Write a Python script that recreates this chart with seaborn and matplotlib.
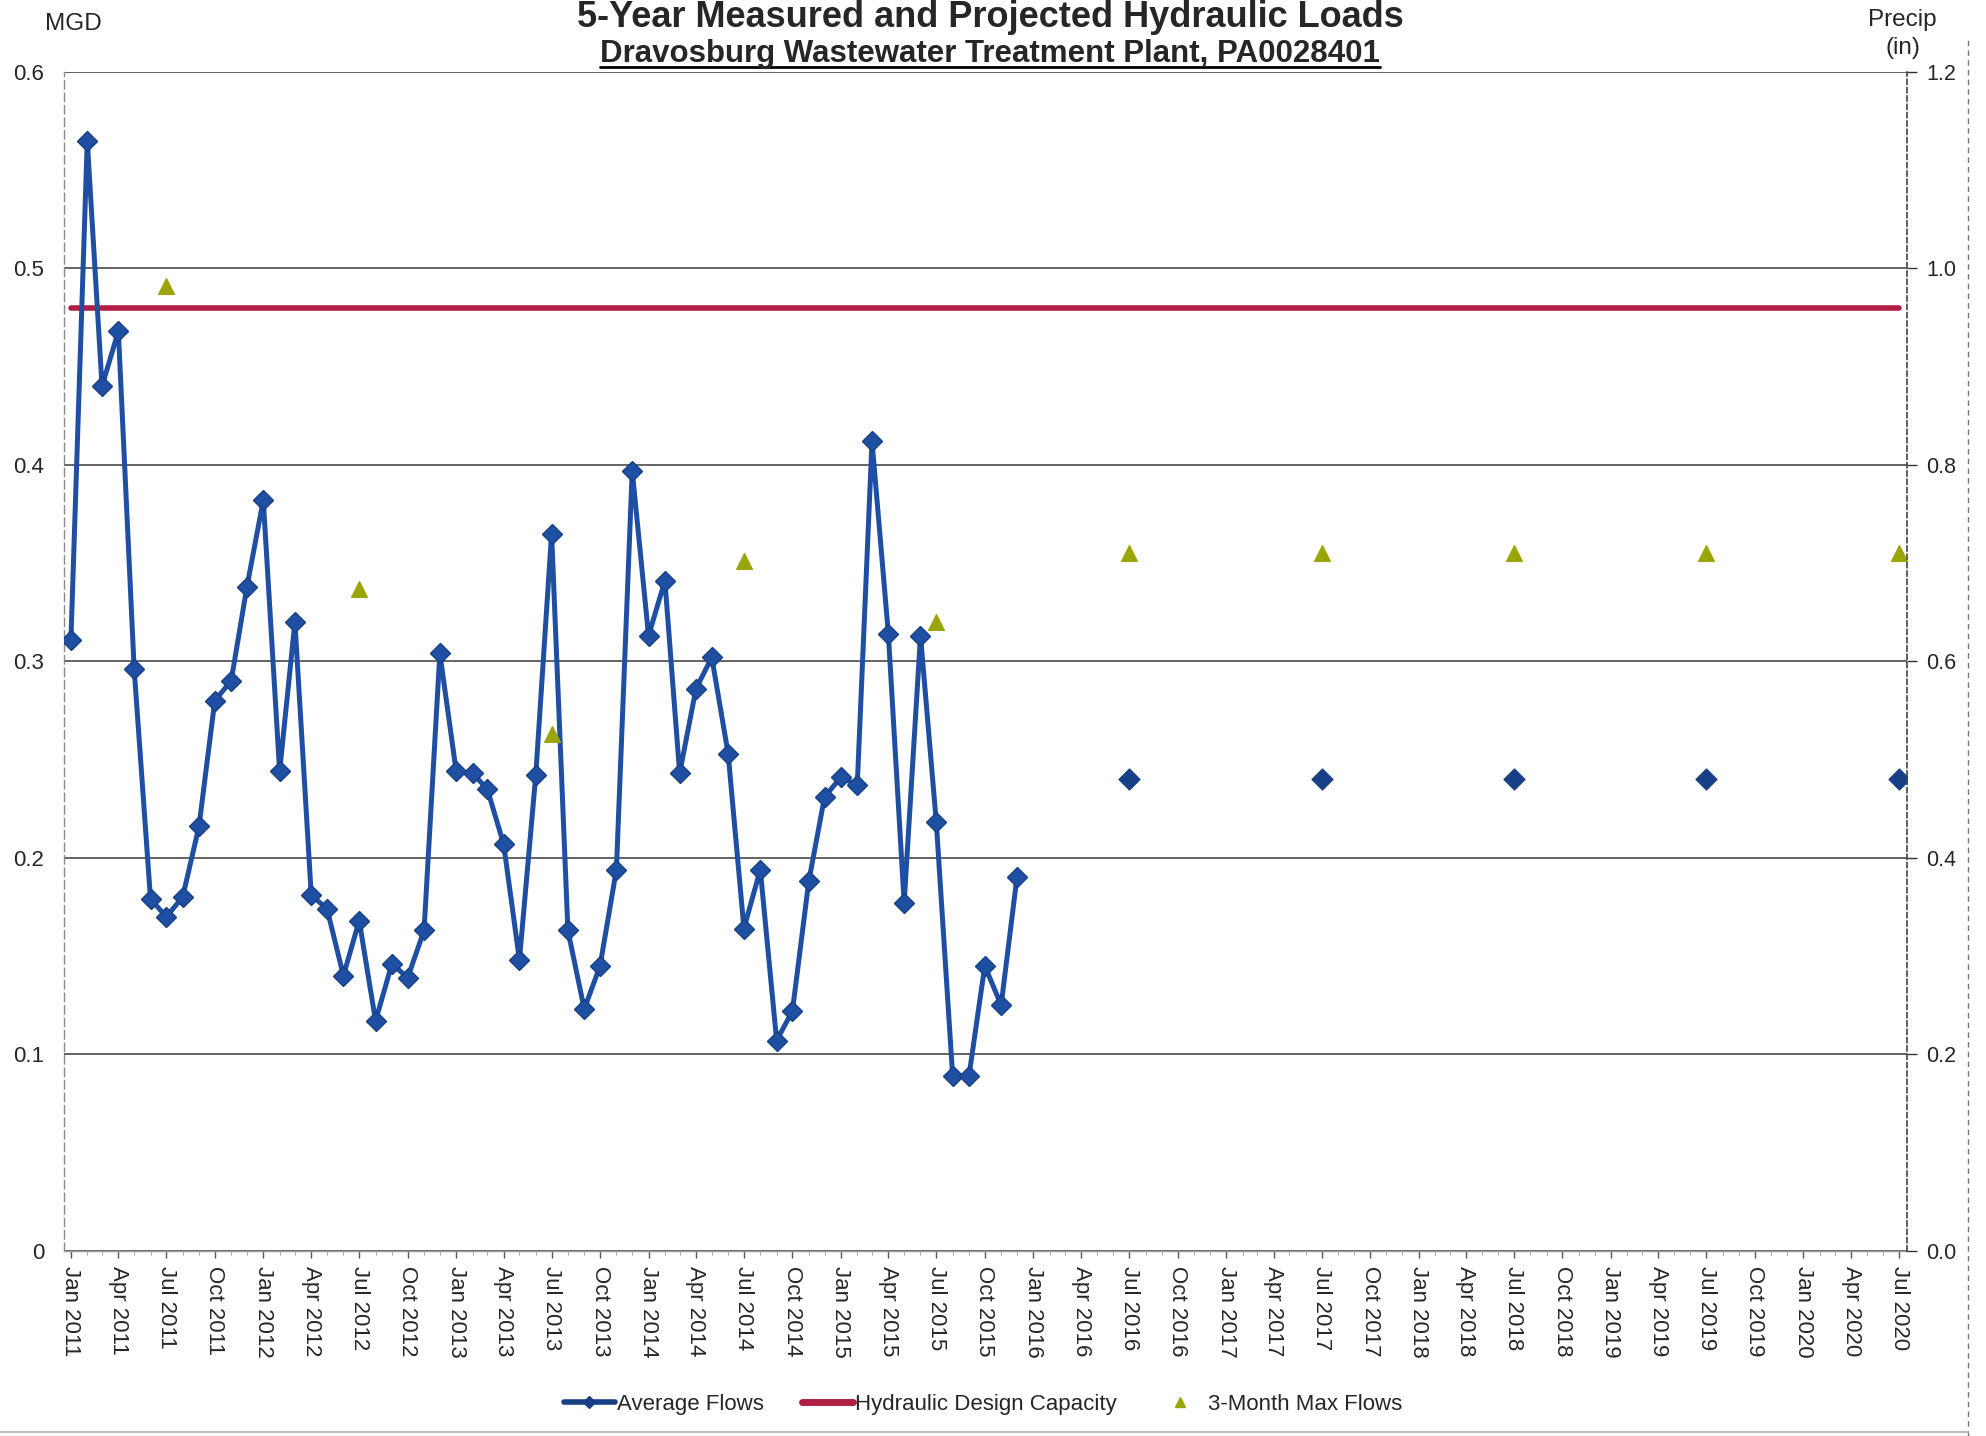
import matplotlib
matplotlib.use('Agg')
import matplotlib.pyplot as plt
import matplotlib.dates as mdates
import matplotlib.ticker as mticker
from matplotlib.lines import Line2D
import pandas as pd
import seaborn as sns

# ── Monthly average flows (MGD), Jan 2011 - Dec 2015 ──
flow_dates = pd.date_range('2011-01-01', '2015-12-01', freq='MS')
avg_flows = [0.311, 0.565, 0.440, 0.468, 0.296, 0.179, 0.170, 0.180, 0.216, 0.280, 0.290, 0.338,
             0.382, 0.244, 0.320, 0.181, 0.174, 0.140, 0.168, 0.117, 0.146, 0.139, 0.163, 0.304,
             0.244, 0.243, 0.235, 0.207, 0.148, 0.242, 0.365, 0.163, 0.123, 0.145, 0.194, 0.397,
             0.313, 0.341, 0.243, 0.286, 0.302, 0.253, 0.164, 0.194, 0.107, 0.122, 0.188, 0.231,
             0.241, 0.237, 0.412, 0.314, 0.177, 0.313, 0.218, 0.089, 0.089, 0.145, 0.125, 0.190]

# ── Projected average flows ──
proj_dates = pd.to_datetime(['2016-07-01', '2017-07-01', '2018-07-01', '2019-07-01', '2020-07-01'])
proj_flows = [0.240, 0.240, 0.240, 0.240, 0.240]

# ── 3-month max flows ──
max_dates = pd.to_datetime(['2011-07-01', '2012-07-01', '2013-07-01', '2014-07-01', '2015-07-01',
                            '2016-07-01', '2017-07-01', '2018-07-01', '2019-07-01', '2020-07-01'])
max_flows = [0.491, 0.337, 0.263, 0.351, 0.320, 0.355, 0.355, 0.355, 0.355, 0.355]

# ── Hydraulic design capacity ──
cap_dates = pd.to_datetime(['2011-01-01', '2020-07-01'])
cap_flows = [0.48, 0.48]

BLUE = '#1f4fa3'
NAVY = '#173f85'
RED = '#b01e45'
OLIVE = '#9ba50a'

sns.set_style('white')
plt.rcParams['font.family'] = ['Liberation Sans', 'DejaVu Sans']

fig = plt.figure(figsize=(19.86, 14.36), dpi=100)
ax = fig.add_axes([0.032, 0.129, 0.928, 0.821])

sns.lineplot(x=cap_dates, y=cap_flows, ax=ax, color=RED, lw=4, zorder=3)
sns.lineplot(x=flow_dates, y=avg_flows, ax=ax, color=BLUE, lw=3.6,
             marker='D', markersize=10.5, markerfacecolor=BLUE,
             markeredgecolor=NAVY, markeredgewidth=1, zorder=4)
sns.scatterplot(x=proj_dates, y=proj_flows, ax=ax, marker='D', s=115,
                color=NAVY, edgecolor=NAVY, zorder=4)
sns.scatterplot(x=max_dates, y=max_flows, ax=ax, marker='^', s=130,
                color=OLIVE, edgecolor=OLIVE, zorder=5)

# ── Axes ──
ax.set_xlim(pd.Timestamp('2010-12-18'), pd.Timestamp('2020-07-15'))
ax.set_ylim(0, 0.6)
ax.set_yticks([0, 0.1, 0.2, 0.3, 0.4, 0.5, 0.6])
ax.yaxis.set_major_formatter(mticker.FuncFormatter(
    lambda v, p: '0' if abs(v) < 1e-9 else f'{v:.1f}'))
ax.yaxis.grid(True, color='#3a3a3a', lw=1.1)
ax.set_axisbelow(True)
ax.set_xlabel('')
ax.set_ylabel('')

ax.xaxis.set_major_locator(mdates.MonthLocator(bymonth=[1, 4, 7, 10]))
ax.xaxis.set_major_formatter(mdates.DateFormatter('%b %Y'))
ax.xaxis.set_minor_locator(mdates.MonthLocator())
ax.tick_params(axis='x', which='major', rotation=-90, labelsize=16,
               length=5, width=1, color='#555555', pad=6, bottom=True)
ax.tick_params(axis='x', which='minor', length=3, color='#999999', bottom=True)
ax.tick_params(axis='y', labelsize=16, length=0, pad=14)
for lab in ax.get_xticklabels():
    lab.set_va('top')
    lab.set_ha('center')

ax.spines['top'].set_visible(False)
ax.spines['left'].set_color('#8a8a8a')
ax.spines['left'].set_linewidth(1)
ax.spines['left'].set_linestyle((0, (6, 3)))
ax.spines['bottom'].set_color('#9a9a9a')
ax.spines['bottom'].set_linewidth(1)
ax.spines['right'].set_visible(False)

# ── Secondary axis (precip) ──
ax2 = ax.twinx()
ax2.set_ylim(0, 1.2)
ax2.set_yticks([0.0, 0.2, 0.4, 0.6, 0.8, 1.0, 1.2])
ax2.yaxis.set_major_formatter(mticker.FormatStrFormatter('%.1f'))
ax2.tick_params(axis='y', labelsize=15.5, length=7, width=1, color='#333333', pad=7)
for side in ['top', 'left', 'bottom']:
    ax2.spines[side].set_visible(False)
ax2.spines['right'].set_color('#444444')
ax2.spines['right'].set_linewidth(1.2)
ax2.spines['right'].set_linestyle((0, (3, 2)))
ax2.grid(False)

# ── Titles & axis captions ──
fig.text(0.4985, 0.9875, '5-Year Measured and Projected Hydraulic Loads',
         ha='center', va='center', fontsize=26, fontweight='bold')
sub = fig.text(0.4985, 0.9625, 'Dravosburg Wastewater Treatment Plant, PA0028401',
               ha='center', va='center', fontsize=22.5, fontweight='bold')
fig.text(0.037, 0.983, 'MGD', ha='center', va='center', fontsize=17.5)
fig.text(0.958, 0.994, 'Precip\n(in)', ha='center', va='top', fontsize=17.5,
         multialignment='center', linespacing=1.4)

# ── Legend ──
handles = [
    Line2D([], [], color=NAVY, lw=4, marker='D', markersize=6),
    Line2D([], [], color=RED, lw=5),
    Line2D([], [], color=OLIVE, lw=0, marker='^', markersize=7),
]
labels = ['Average Flows', 'Hydraulic Design Capacity', '3-Month Max Flows']
fig.legend(handles, labels, loc='center', bbox_to_anchor=(0.495, 0.022), ncol=3,
           frameon=False, fontsize=16, handlelength=2.3, handletextpad=0.1,
           columnspacing=1.7)

# ── Underline subtitle ──
fig.canvas.draw()
bb = sub.get_window_extent().transformed(fig.transFigure.inverted())
fig.add_artist(Line2D([bb.x0, bb.x1], [bb.y0 + 0.001, bb.y0 + 0.001],
                      color='black', lw=2, transform=fig.transFigure))

# ── Page border lines (scan frame) ──
fig.add_artist(Line2D([0.991, 0.991], [0.0, 0.975], color='#777777', lw=1,
                      ls=(0, (4, 3)), transform=fig.transFigure))
fig.add_artist(Line2D([0.0, 0.991], [0.003, 0.003], color='#bbbbbb', lw=1.5,
                      transform=fig.transFigure))

fig.savefig('out.png', dpi=100, facecolor='white')
